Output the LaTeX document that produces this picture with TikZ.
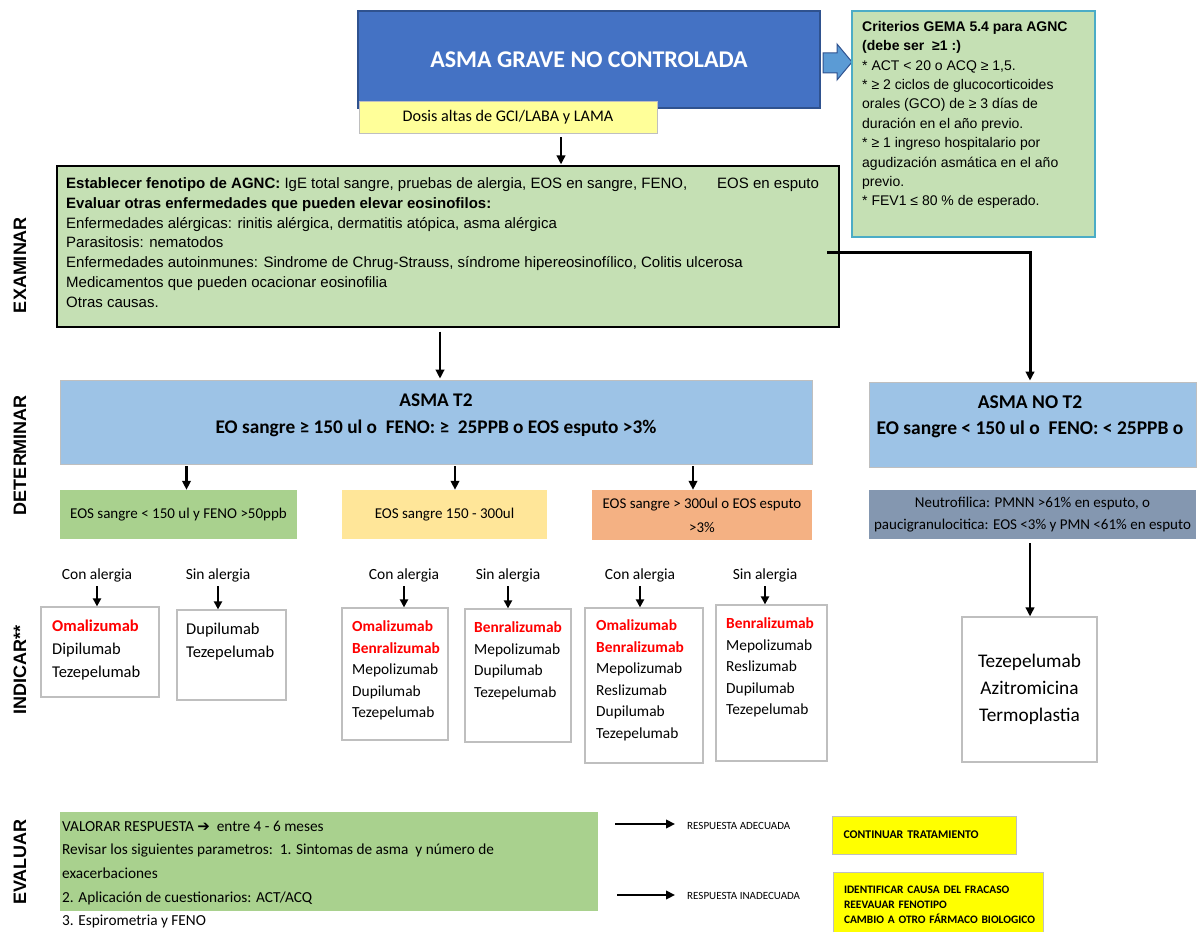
\documentclass[tikz,border=0pt]{standalone}
\usepackage{fontspec}
\setmainfont{Carlito}
\newfontfamily\arial{Liberation Sans}
\newfontfamily\symf{DejaVu Sans}
\usetikzlibrary{arrows.meta,calc}

\definecolor{mainblue}{HTML}{4472C4}
\definecolor{mainedge}{HTML}{2F528F}
\definecolor{paleyellow}{HTML}{FFFF99}
\definecolor{arrowblue}{HTML}{5B9BD5}
\definecolor{arrowedge}{HTML}{2F528F}
\definecolor{sagegreen}{HTML}{C5E0B4}
\definecolor{tealedge}{HTML}{4BACC6}
\definecolor{skyblue}{HTML}{9DC3E6}
\definecolor{leafgreen}{HTML}{A9D18E}
\definecolor{sand}{HTML}{FFE699}
\definecolor{peach}{HTML}{F4B183}
\definecolor{slate}{HTML}{8497B0}
\definecolor{signalred}{HTML}{FF0000}
\definecolor{brightyellow}{HTML}{FFFF00}
\definecolor{boxgray}{HTML}{BFBFBF}

\newcommand\fsz[2]{\fontsize{#1}{#2}\selectfont}
\newcommand\hit[1]{\textcolor{signalred}{\bfseries #1}}

\tikzset{
  arr/.style={line width=2.2pt,-{Triangle[length=9pt,width=8.5pt]}},
  smallarr/.style={line width=2pt,-{Triangle[length=8pt,width=8pt]}},
  drugbox/.style={draw=boxgray,line width=1.2pt,fill=white,inner sep=0},
  drugtext/.style={anchor=north west,inner sep=0,align=left,font=\fsz{15.4}{21.5}},
  allergy/.style={font=\fsz{15.5}{18}},
  phase/.style={rotate=90,font=\arial\bfseries\fsz{18}{20}},
  flatbox/.style={inner sep=0},
}

\begin{document}
\begin{tikzpicture}[x=1pt,y=-1pt]
\useasboundingbox (0,0) rectangle (1198,931);
\fill[white] (0,0) rectangle (1198,931);

% ---------- header ----------
\node[flatbox,draw=mainedge,fill=mainblue,line width=1.2pt,minimum width=462,minimum height=97,
      text=white,font=\bfseries\fsz{24}{28}] (agnc) at (589,59.5) {ASMA GRAVE NO CONTROLADA};
\node[flatbox,draw=boxgray,fill=paleyellow,line width=0.8pt,minimum width=298,minimum height=32,
      font=\fsz{16.2}{18}] (dosis) at (508,117) {Dosis altas de GCI/LABA y LAMA};

% block arrow towards the criteria panel
\filldraw[fill=arrowblue,draw=arrowedge,line width=1pt]
  (823,53) -- (837,53) -- (837,44) -- (852,62) -- (837,80) -- (837,73) -- (823,73) -- cycle;

\node[flatbox,draw=tealedge,fill=sagegreen,line width=1.2pt,minimum width=243,minimum height=226] (crit) at (973.5,124) {};
\node[anchor=north west,inner sep=0,align=left,font=\arial\fsz{14}{19.4}] (crittext) at (862,21)
 {\textbf{Criterios GEMA 5.4 para AGNC}\\
  \textbf{(debe ser\ \ ≥1 :)}\\
  * ACT < 20 o ACQ ≥ 1,5.\\
  * ≥ 2 ciclos de glucocorticoides\\
  orales (GCO) de ≥ 3 días de\\
  duración en el año previo.\\
  * ≥ 1 ingreso hospitalario por\\
  agudización asmática en el año\\
  previo.\\
  * FEV1 ≤ 80 \% de esperado.};

% ---------- examine ----------
\node[flatbox,draw=black,fill=sagegreen,line width=1.2pt,minimum width=782,minimum height=161] (exam) at (448,246.5) {};
\node[anchor=north west,inner sep=0,align=left,font=\arial\fsz{15}{19.8}] (examtext) at (66,177.5)
 {\textbf{Establecer fenotipo de AGNC:} IgE total sangre, pruebas de alergia, EOS en sangre, FENO,\hspace{30pt}EOS en esputo\\
  \textbf{Evaluar otras enfermedades que pueden elevar eosinofilos:}\\
  Enfermedades alérgicas: rinitis alérgica, dermatitis atópica, asma alérgica\\
  Parasitosis: nematodos\\
  Enfermedades autoinmunes: Sindrome de Chrug-Strauss, síndrome hipereosinofílico, Colitis ulcerosa\\
  Medicamentos que pueden ocacionar eosinofilia\\
  Otras causas.};

\draw[arr] ($(dosis.south)+(53,4)$) -- ($(exam.north)+(113,-1)$);

% ---------- determine ----------
\node[flatbox,draw=boxgray,fill=skyblue,line width=0.8pt,minimum width=752,minimum height=84] (t2) at (436,422) {};
\node[align=center,font=\bfseries\fsz{19.3}{27}] (t2text) at (436,415.5)
 {ASMA T2\\EO sangre ≥ 150 ul o\ \ FENO: ≥\ \ 25PPB o EOS esputo >3\%};
\node[flatbox,draw=boxgray,fill=skyblue,line width=0.8pt,minimum width=327,minimum height=85] (not2) at (1032.5,424.5) {};
\node[align=center,font=\bfseries\fsz{19.5}{26}] (not2text) at (1030,417)
 {ASMA NO T2\\EO sangre < 150 ul o\ \ FENO: < 25PPB o};

\draw[arr] ($(exam.south)+(-8,4)$) -- ($(t2.north)+(4,-1)$);
\coordinate (split) at (827,252);
\draw[arr,line width=3pt] (split) -| ($(not2.north)+(-2.5,-1)$);

\node[flatbox,fill=leafgreen,minimum width=237,minimum height=49,font=\fsz{15}{18}] (g1) at (178.5,514.5)
 {EOS sangre < 150 ul y FENO >50ppb};
\node[flatbox,fill=sand,minimum width=205,minimum height=49,font=\fsz{15}{18}] (g2) at (444.5,514.5)
 {EOS sangre 150 - 300ul};
\node[flatbox,fill=peach,minimum width=220,minimum height=50,align=center,font=\fsz{14.9}{24}] (g3) at (702,515)
 {EOS sangre > 300ul o EOS esputo\\>3\%};
\node[flatbox,fill=slate,minimum width=327,minimum height=49,align=center,font=\fsz{15}{22}] (g4) at (1032.5,514.5)
 {Neutrofilica: PMNN >61\% en esputo, o\\paucigranulocitica: EOS <3\% y PMN <61\% en esputo};

\coordinate (c1) at ($(g1.north)+(8,0)$);
\coordinate (c2) at ($(g2.north)+(10.5,0)$);
\coordinate (c3) at ($(g3.north)+(-9,0)$);
\draw[arr] ($(c1 |- t2.south)+(0,2)$) -- (c1);
\draw[arr] ($(c2 |- t2.south)+(0,2)$) -- (c2);
\draw[arr] ($(c3 |- t2.south)+(0,2)$) -- (c3);

% ---------- indicate ----------
\node[flatbox,draw=boxgray,fill=white,line width=1.2pt,minimum width=135,minimum height=145,
      align=center,font=\fsz{19.3}{27}] (teze) at (1029.5,689.5) {Tezepelumab\\Azitromicina\\Termoplastia};
\coordinate (c4) at ($(teze.north)+(0.5,0)$);
\draw[arr,line width=2.6pt] ($(c4 |- g4.south)+(0,4)$) -- (c4);

\node[allergy] (l1) at (97,575) {Con alergia};
\node[allergy] (l2) at (218,575) {Sin alergia};
\node[allergy] (l3) at (404,575) {Con alergia};
\node[allergy] (l4) at (508,575) {Sin alergia};
\node[allergy] (l5) at (640,575) {Con alergia};
\node[allergy] (l6) at (765,575) {Sin alergia};

\node[drugbox,minimum width=118,minimum height=90] (b1) at (100,652) {};
\node[drugbox,minimum width=109,minimum height=90] (b2) at (231.5,655) {};
\node[drugbox,minimum width=106,minimum height=132] (b3) at (395,674) {};
\node[drugbox,minimum width=106,minimum height=133] (b4) at (518,675.5) {};
\node[drugbox,minimum width=118,minimum height=155] (b5) at (644,685.5) {};
\node[drugbox,minimum width=111,minimum height=156] (b6) at (771.5,683) {};

\node[drugtext,font=\fsz{16.5}{23}] (d1) at (52,619.5) {\hit{Omalizumab}\\Dipilumab\\Tezepelumab};
\node[drugtext,font=\fsz{16.5}{23}] (d2) at (186,622.5) {Dupilumab\\Tezepelumab};
\node[drugtext] (d3) at (352,620.5) {\hit{Omalizumab}\\\hit{Benralizumab}\\Mepolizumab\\Dupilumab\\Tezepelumab};
\node[drugtext] (d4) at (474,621.5) {\hit{Benralizumab}\\Mepolizumab\\Dupilumab\\Tezepelumab};
\node[drugtext] (d5) at (596,619.5) {\hit{Omalizumab}\\\hit{Benralizumab}\\Mepolizumab\\Reslizumab\\Dupilumab\\Tezepelumab};
\node[drugtext] (d6) at (726,617.5) {\hit{Benralizumab}\\Mepolizumab\\Reslizumab\\Dupilumab\\Tezepelumab};

\foreach \l/\b in {l1/b1,l2/b2,l3/b3,l4/b4,l5/b5,l6/b6}
  \draw[smallarr] ($(\l.south)+(0,1)$) -- (\l.south |- \b.north);

% ---------- evaluate ----------
\node[flatbox,fill=leafgreen,minimum width=538,minimum height=99] (eval) at (329,861.5) {};
\node[anchor=north west,inner sep=0,align=left,font=\fsz{15.3}{23.7}] (evaltext) at (62,820.5)
 {VALORAR RESPUESTA {\symf\bfseries\fsz{15}{15}➔}\ \ entre 4 - 6 meses\\
  Revisar los siguientes parametros:\ \ 1. Sintomas de asma\ \ y número de\\
  exacerbaciones\\
  2. Aplicación de cuestionarios: ACT/ACQ\\
  3. Espirometria y FENO};

\node[anchor=west,inner sep=0,font=\fsz{11}{12}] (ok) at (687,826) {RESPUESTA ADECUADA};
\node[anchor=west,inner sep=0,font=\fsz{11}{12}] (notok) at (687,896) {RESPUESTA INADECUADA};
\coordinate (okstart) at (615,824);
\coordinate (notokstart) at (617,895);
\draw[arr,line width=2.6pt] (okstart) -- ($(ok.west)+(-12,-2)$);
\draw[arr,line width=2.6pt] (notokstart) -- ($(notok.west)+(-12,-1)$);

\node[flatbox,fill=brightyellow,draw=boxgray,line width=0.8pt,minimum height=38,text width=174,inner xsep=5,
      align=left,font=\bfseries\fsz{11.8}{15}] (keep) at (924.5,835) {\hspace{6pt}CONTINUAR TRATAMIENTO};
\node[flatbox,fill=brightyellow,draw=boxgray,line width=0.8pt,minimum height=65,text width=200,inner xsep=5,
      align=left,font=\bfseries\fsz{11.4}{15}] (change) at (938,904.5)
 {\hspace{6pt}IDENTIFICAR CAUSA DEL FRACASO\\\hspace*{6pt}REEVAUAR FENOTIPO\\\hspace*{6pt}CAMBIO A OTRO FÁRMACO BIOLOGICO};

% ---------- phase labels ----------
\node[phase] (pexam) at (20,265) {EXAMINAR};
\node[phase] (pdet) at (20,455) {DETERMINAR};
\node[phase] (pind) at (20,670) {INDICAR**};
\node[phase] (peval) at (20,862) {EVALUAR};

\end{tikzpicture}
\end{document}
